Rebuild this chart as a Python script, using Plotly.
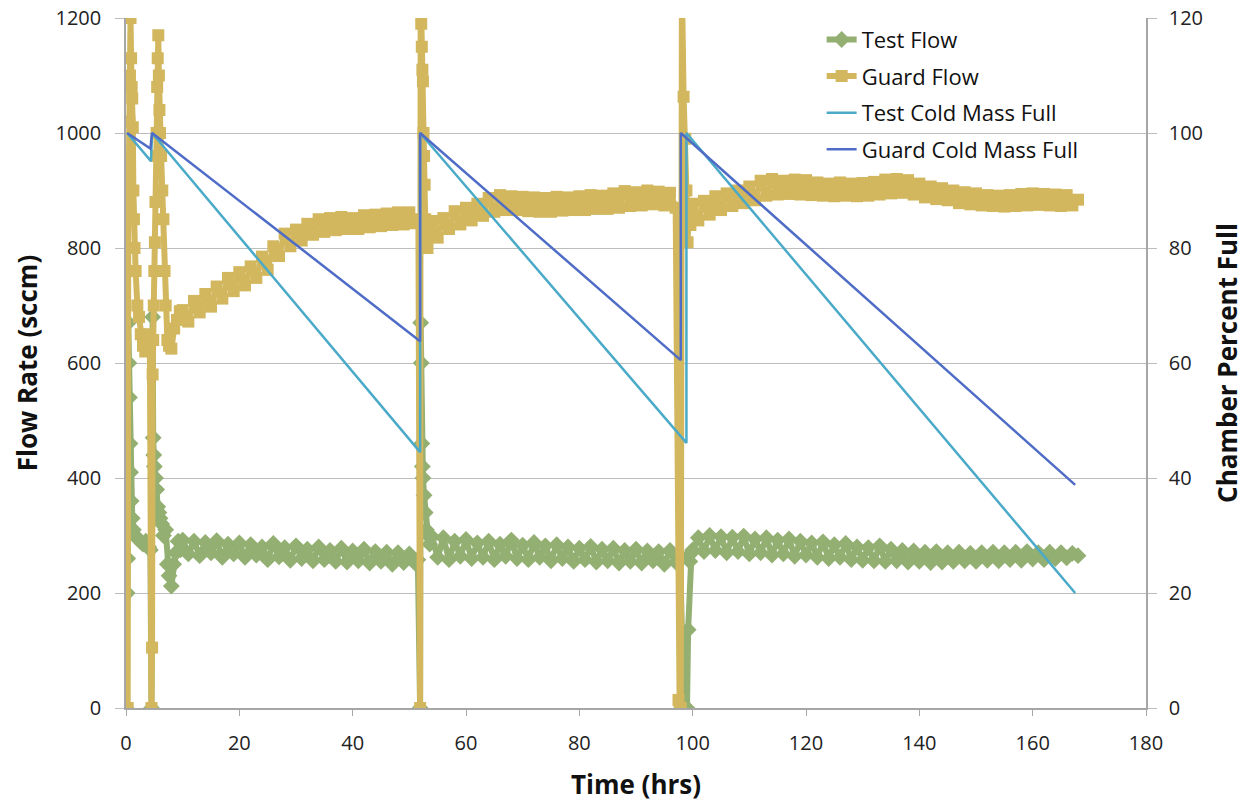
import plotly.graph_objects as go

# ---------------- data ----------------
test_time = [0.0, 0.2, 0.3, 0.4, 0.5, 0.6, 0.7, 0.8, 0.9, 1.1, 1.3, 1.6, 2.0, 2.5, 3.0, 3.5, 4.0, 4.3,
             4.5, 4.7, 4.8, 4.9, 5.0, 5.2, 5.4, 5.6, 5.8, 6.0, 6.3, 6.6, 7.0, 7.3, 7.6, 8.0, 8.4, 8.8, 9.2, 9.6,
             10, 11, 12, 13, 14, 15, 16, 17, 18, 19, 20, 21, 22, 23, 24, 25, 26, 27, 28, 29, 30,
             31, 32, 33, 34, 35, 36, 37, 38, 39, 40, 41, 42, 43, 44, 45, 46, 47, 48, 49, 50, 51, 51.5,
             51.9, 52.0, 52.1, 52.2, 52.3, 52.4, 52.6, 52.8, 53.0, 53.3, 53.6,
             54, 55, 56, 57, 58, 59, 60, 61, 62, 63, 64, 65, 66, 67, 68, 69, 70, 71, 72, 73, 74, 75,
             76, 77, 78, 79, 80, 81, 82, 83, 84, 85, 86, 87, 88, 89, 90, 91, 92, 93, 94, 95, 96, 97, 97.8,
             98.4, 99.0, 99.2, 99.5, 99.8,
             100, 101, 102, 103, 104, 105, 106, 107, 108, 109, 110, 111, 112, 113, 114, 115, 116, 117,
             118, 119, 120, 121, 122, 123, 124, 125, 126, 127, 128, 129, 130, 131, 132, 133, 134, 135,
             136, 137, 138, 139, 140, 141, 142, 143, 144, 145, 146, 147, 148, 149, 150, 151, 152, 153,
             154, 155, 156, 157, 158, 159, 160, 161, 162, 163, 164, 165, 166, 167, 168]
test_flow = [0, 200, 260, 670, 600, 540, 460, 410, 360, 330, 310, 300, 295, 290, 285, 290, 280, 275,
             0, 680, 470, 440, 420, 400, 380, 350, 340, 330, 320, 300, 310, 250, 230, 212, 250, 270, 290, 275,
             292, 268, 290, 265, 288, 270, 291, 262, 285, 268, 287, 262, 284, 266, 280, 258, 286, 263, 279, 257, 282,
             260, 276, 256, 280, 258, 274, 255, 278, 254, 273, 256, 276, 252, 272, 255, 271, 250, 270, 253, 268, 252, 258,
             0, 670, 600, 460, 420, 400, 370, 340, 310, 300, 285,
             298, 262, 296, 258, 290, 264, 293, 260, 287, 262, 290, 258, 285, 264, 292, 260, 283, 258, 288, 262, 282, 256,
             284, 260, 280, 255, 278, 258, 281, 254, 276, 256, 278, 252, 274, 255, 276, 252, 273, 256, 272, 250, 274, 254, 262,
             0, 0, 136, 255, 270,
             275, 296, 272, 300, 274, 298, 270, 297, 272, 299, 268, 294, 270, 296, 266, 292, 268, 294,
             264, 290, 266, 287, 262, 289, 260, 284, 262, 286, 258, 280, 257, 279, 256, 282, 255, 276,
             256, 274, 254, 273, 255, 271, 253, 272, 254, 270, 255, 271, 256, 269, 255, 270, 257, 271,
             256, 270, 258, 271, 257, 272, 259, 270, 258, 271, 260, 270, 261, 269, 265]

guard_time = [0.0, 0.3, 0.4, 0.5, 0.6, 0.7, 0.8, 0.9, 1.0, 1.1, 1.2, 1.3, 1.4, 1.5, 1.7, 2.0, 2.3, 2.6, 3.0,
              3.4, 3.8, 4.2, 4.5, 4.6, 4.7, 4.8, 4.9, 5.0, 5.1, 5.2, 5.3, 5.4, 5.5, 5.6, 5.7, 5.8, 5.9, 6.0,
              6.2, 6.4, 6.6, 6.8, 7.0, 7.3, 7.6, 8.0, 8.5, 9.0, 9.5,
              10, 11, 12, 13, 14, 15, 16, 17, 18, 19, 20, 21, 22, 23, 24, 25, 26, 27, 28, 29, 30,
              31, 32, 33, 34, 35, 36, 37, 38, 39, 40, 41, 42, 43, 44, 45, 46, 47, 48, 49, 50, 51, 51.6,
              51.9, 52.0, 52.1, 52.2, 52.3, 52.4, 52.5, 52.6, 52.7, 52.8, 53.0, 53.2, 53.5,
              54, 55, 56, 57, 58, 59, 60, 61, 62, 63, 64, 65, 66, 67, 68, 69, 70, 71, 72, 73, 74, 75,
              76, 77, 78, 79, 80, 81, 82, 83, 84, 85, 86, 87, 88, 89, 90, 91, 92, 93, 94, 95, 96, 97,
              97.5, 97.7, 97.9, 98.1, 98.4, 98.7, 98.9, 99.1, 99.3, 99.6,
              100, 101, 102, 103, 104, 105, 106, 107, 108, 109, 110, 111, 112, 113, 114, 115, 116, 117,
              118, 119, 120, 121, 122, 123, 124, 125, 126, 127, 128, 129, 130, 131, 132, 133, 134, 135,
              136, 137, 138, 139, 140, 141, 142, 143, 144, 145, 146, 147, 148, 149, 150, 151, 152, 153,
              154, 155, 156, 157, 158, 159, 160, 161, 162, 163, 164, 165, 166, 167, 168]
guard_flow = [0, 0, 850, 950, 1020, 1100, 1200, 1130, 1080, 1060, 1010, 900, 850, 800, 760, 700, 680, 650, 630,
              620, 640, 650, 0, 105, 580, 640, 700, 760, 810, 880, 960, 1000, 1080, 1130, 1170, 1100, 1040, 1000,
              960, 900, 850, 760, 700, 640, 630, 625, 660, 675, 690,
              692, 672, 708, 688, 720, 698, 733, 712, 748, 725, 758, 735, 768, 748, 785, 762, 803, 786, 825, 803, 832,
              813, 842, 823, 850, 828, 852, 831, 854, 833, 852, 833, 857, 836, 858, 838, 860, 840, 862, 841, 862, 843, 850,
              0, 1260, 1190, 1150, 1110, 1090, 1000, 960, 910, 850, 810, 800, 830,
              847, 818, 852, 833, 864, 841, 870, 848, 877, 856, 887, 863, 892, 866, 890, 866, 889, 864, 888, 863, 887, 863,
              889, 865, 888, 866, 890, 866, 892, 868, 891, 868, 895, 870, 899, 873, 897, 874, 900, 876, 898, 874, 896, 870,
              14, 0, 0, 1260, 1063, 990, 900, 810, 860, 840,
              877, 848, 882, 858, 890, 866, 895, 873, 900, 878, 907, 883, 917, 891, 920, 893, 917, 894,
              919, 893, 918, 892, 914, 891, 912, 890, 914, 891, 912, 890, 913, 891, 915, 893, 919, 895,
              920, 896, 918, 893, 912, 888, 907, 885, 904, 883, 900, 878, 897, 876, 895, 874, 892, 873,
              891, 872, 892, 873, 894, 874, 895, 875, 894, 874, 893, 873, 892, 874, 884]

test_cm_time = [0.2, 4.4, 4.6, 51.9, 51.9, 98.9, 98.9, 167.5]
test_cm_pct = [100, 95.1, 100, 44.5, 100, 46.1, 100, 20]

guard_cm_time = [0.2, 4.3, 4.6, 51.9, 51.9, 97.9, 97.9, 167.5]
guard_cm_pct = [100, 97.3, 100, 63.8, 100, 60.5, 100, 38.8]

x_ticks = [0, 20, 40, 60, 80, 100, 120, 140, 160, 180]

# ---------------- styling ----------------
GREEN = "#93AF72"
GOLD = "#D2B75E"
TEAL = "#4AAAC8"
BLUE = "#4F6CC6"
FONT = "'Open Sans', Lato, sans-serif"
AXIS = "#A6A6A6"
GRID = "#BDBDBD"

fig = go.Figure()
fig.add_trace(go.Scatter(x=test_time, y=test_flow, name="Test Flow", mode="lines+markers",
                         legendgroup="a",
                         line=dict(color=GREEN, width=6),
                         marker=dict(symbol="diamond", size=13, color=GREEN)))
fig.add_trace(go.Scatter(x=guard_time, y=guard_flow, name="Guard Flow", mode="lines+markers",
                         legendgroup="b",
                         line=dict(color=GOLD, width=6),
                         marker=dict(symbol="square", size=12, color=GOLD)))
fig.add_trace(go.Scatter(x=test_cm_time, y=test_cm_pct, name="Test Cold Mass Full", mode="lines",
                         legendgroup="c",
                         line=dict(color=TEAL, width=2.5), yaxis="y2"))
fig.add_trace(go.Scatter(x=guard_cm_time, y=guard_cm_pct, name="Guard Cold Mass Full", mode="lines",
                         legendgroup="d",
                         line=dict(color=BLUE, width=2.5), yaxis="y2"))

fig.update_layout(
    width=1250, height=802,
    margin=dict(l=126, r=104, t=18, b=94, autoexpand=False),
    paper_bgcolor="white", plot_bgcolor="white",
    font=dict(family=FONT, size=20, color="#222222"),
    showlegend=True,
    legend=dict(x=0.682, y=0.999, xanchor="left", yanchor="top",
                bgcolor="rgba(255,255,255,0)", font=dict(size=22, color="#111111"),
                tracegroupgap=5, itemwidth=30),
    xaxis=dict(range=[0, 180], tickvals=x_ticks, showgrid=False, zeroline=False,
               showline=True, linecolor=AXIS, linewidth=1.5, automargin=False,
               ticks="outside", ticklen=6, tickcolor=AXIS, ticklabelstandoff=10,
               tickfont=dict(size=20, color="#222222"),
               title=dict(text="<b>Time (hrs)</b>", font=dict(size=26, color="#111111"), standoff=21)),
    yaxis=dict(range=[0, 1200], dtick=200, showgrid=True, gridcolor=GRID, gridwidth=1.2,
               zeroline=False, showline=True, linecolor=AXIS, linewidth=1.5, automargin=False,
               ticks="outside", ticklen=9, tickcolor=GRID, ticklabelstandoff=10,
               tickfont=dict(size=20, color="#222222"),
               title=dict(text="<b>Flow Rate (sccm)</b>", font=dict(size=26, color="#111111"), standoff=10)),
    yaxis2=dict(range=[0, 120], dtick=20, overlaying="y", side="right", showgrid=False,
                zeroline=False, showline=True, linecolor=AXIS, linewidth=1.5, automargin=False,
                ticks="outside", ticklen=9, tickcolor=GRID, ticklabelstandoff=8,
                tickfont=dict(size=20, color="#222222"),
                title=dict(text="<b>Chamber Percent Full</b>", font=dict(size=26, color="#111111"), standoff=17)),
)

fig.write_html("out.html")
